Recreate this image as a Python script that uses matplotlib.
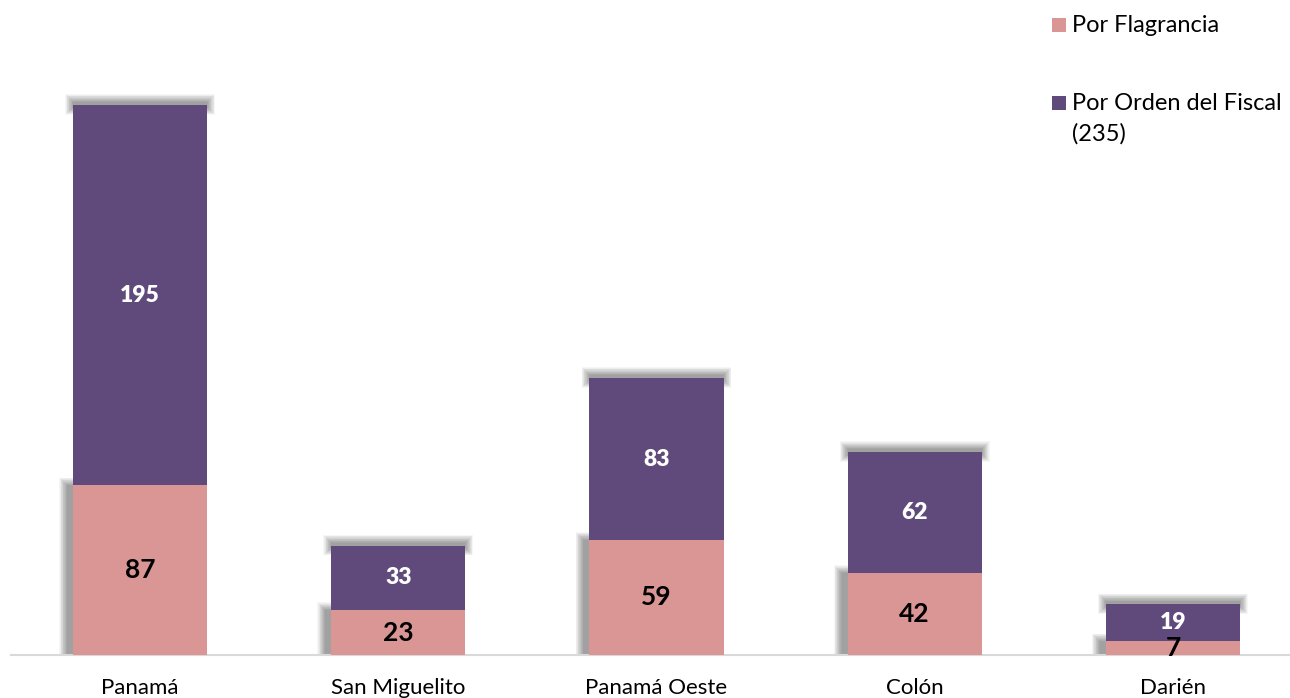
import numpy as np
import matplotlib.pyplot as plt
from matplotlib.patches import Rectangle

# Datos
regiones = ['Panamá', 'San Miguelito', 'Panamá Oeste', 'Colón', 'Darién']
flagrancia = [87, 23, 59, 42, 7]
orden_fiscal = [195, 33, 83, 62, 19]

col_flag = '#D99694'
col_orden = '#604A7B'
fuente = 'Lato'

plt.rcParams['font.family'] = [fuente, 'DejaVu Sans']

fig = plt.figure(figsize=(12.9, 6.98), dpi=100)
W, H = 1290, 698
ax = fig.add_axes([11 / W, 43 / H, 1291 / W, 585 / H])

x = np.arange(len(regiones))
ancho = 0.52
px_x = 258.2   # px por unidad x
px_y = 1.95    # px por unidad y


def sombra(ax, x0, y0, w, h, capas=12, alpha=0.035):
    # sombra difusa: varias capas grises semitransparentes
    for k in range(capas):
        dx = k * 0.7 / px_x
        dy = k * 0.7 / px_y
        ax.add_patch(Rectangle((x0 - dx, y0 - dy), w + 2 * dx, h + 2 * dy,
                               facecolor='black', edgecolor='none',
                               alpha=alpha, zorder=1))


for xi, f, o in zip(x, flagrancia, orden_fiscal):
    izq = xi - ancho / 2
    # sombra superior del segmento morado
    sombra(ax, izq, f + o - 1, ancho, 5 / px_y)
    # sombra izquierda del segmento rosado
    sombra(ax, izq - 6 / px_x, 0, 6 / px_x, f)

ax.bar(x, flagrancia, width=ancho, color=col_flag, zorder=3)
ax.bar(x, orden_fiscal, width=ancho, bottom=flagrancia, color=col_orden, zorder=3)

for xi, f, o in zip(x, flagrancia, orden_fiscal):
    ax.text(xi, f / 2, str(f), ha='center', va='center', fontsize=19,
            fontweight='bold', color='black', zorder=4)
    ax.text(xi, f + o / 2, str(o), ha='center', va='center', fontsize=16.5,
            fontweight='heavy', color='white', zorder=4)

ax.set_xlim(-0.5, 4.5)
ax.set_ylim(0, 300)
ax.set_xticks(x)
ax.set_xticklabels(regiones, fontsize=16)
ax.tick_params(axis='x', length=0, pad=16.5)
ax.set_yticks([])
for s in ['top', 'right', 'left']:
    ax.spines[s].set_visible(False)
ax.spines['bottom'].set_color('#D9D9D9')
ax.spines['bottom'].set_linewidth(1.5)
ax.spines['bottom'].set_zorder(2)

# Leyenda manual
fig.patches.append(Rectangle((1052 / W, 1 - 32 / H), 14 / W, 14 / H,
                             facecolor=col_flag, transform=fig.transFigure))
fig.text(1072 / W, 1 - 25 / H, 'Por Flagrancia', fontsize=17, va='center')
fig.patches.append(Rectangle((1052 / W, 1 - 110 / H), 14 / W, 14 / H,
                             facecolor=col_orden, transform=fig.transFigure))
fig.text(1072 / W, 1 - 103 / H, 'Por Orden del Fiscal', fontsize=17, va='center')
fig.text(1072 / W, 1 - 134 / H, '(235)', fontsize=17, va='center')

fig.savefig('out.png', dpi=100)
